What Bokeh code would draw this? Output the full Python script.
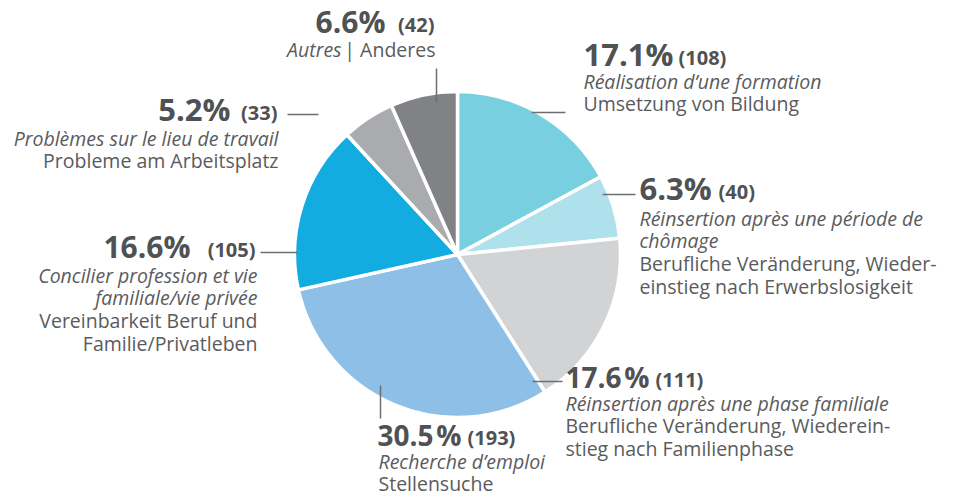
import math
from bokeh.plotting import figure
from bokeh.models import Range1d, ColumnDataSource
from bokeh.core.properties import value
from bokeh.embed import file_html
from bokeh.resources import INLINE

# ---------------- data ----------------
categories = ["Umsetzung von Bildung", "Wiedereinstieg nach Erwerbslosigkeit",
              "Wiedereinstieg nach Familienphase", "Stellensuche",
              "Vereinbarkeit Beruf und Familie", "Probleme am Arbeitsplatz", "Anderes"]
percents = [17.1, 6.3, 17.6, 30.5, 16.6, 5.2, 6.6]
counts = [108, 40, 111, 193, 105, 33, 42]
pct_space = ["", "", "\u200a", "\u200a", "", "", ""]
italic_lines = [
    ["Réalisation d’une formation"],
    ["Réinsertion après une période de", "chômage"],
    ["Réinsertion après une phase familiale"],
    ["Recherche d’emploi"],
    ["Concilier profession et vie", "familiale/vie privée"],
    ["Problèmes sur le lieu de travail"],
    ["Autres"],
]
normal_lines = [
    ["Umsetzung von Bildung"],
    ["Berufliche Veränderung, Wieder-", "einstieg nach Erwerbslosigkeit"],
    ["Berufliche Veränderung, Wiederein-", "stieg nach Familienphase"],
    ["Stellensuche"],
    ["Vereinbarkeit Beruf und", "Familie/Privatleben"],
    ["Probleme am Arbeitsplatz"],
    ["| Anderes"],
]
colors = ["#78cfe0", "#afe1ec", "#d1d3d4", "#8ebfe7", "#12ace0", "#a9abae", "#808285"]

# ---------------- layout (pixels in the 956x497 window) ----------------
W, H = 956, 497
CX, CY, R = 457, 254, 163
# label anchor: (align, pct_x, count_x, text_x, pct_baseline, first_line_baseline, pct_size)
label_layout = [
    ("left", 583, 678, 583, 65, 88, 31),
    ("left", 639, 718, 639, 199, 225, 31),
    ("left", 565, 655, 565, 387, 410, 28),
    ("left", 377, 467, 378, 445, 468, 28),
    ("right", 190, 255, 257, 257, 282, 30),
    ("right", 230, 277, 278, 120, 145, 31),
    ("right", 385, 434, 341, 32, 56, 30),
]
line_gap = 22.8
leaders = [
    (531, 112, 565, 112),
    (602, 194, 635, 194),
    (532, 381, 562, 381),
    (380, 385, 380, 418),
    (260, 252, 297, 252),
    (287, 114, 318, 114),
    (436, 68, 436, 102),
]
SHIFT = 0.38  # em correction for the glyph baseline placement


def Y(py, size=0.0):
    return H - (py - SHIFT * size)


p = figure(width=W, height=H, output_backend="svg", toolbar_location=None,
           x_range=Range1d(0, W), y_range=Range1d(0, H),
           min_border=0, outline_line_color=None)
p.axis.visible = False
p.grid.visible = False
p.background_fill_color = "white"
p.border_fill_color = "white"

# pie wedges
total = sum(counts)
starts, ends = [], []
cum = 0
for c in counts:
    starts.append(math.pi / 2 - 2 * math.pi * cum / total)
    cum += c
    ends.append(math.pi / 2 - 2 * math.pi * cum / total)
src = ColumnDataSource(dict(start=starts, end=ends, color=colors, cat=categories))
p.wedge(x=CX, y=Y(CY), radius=R, start_angle="start", end_angle="end",
        direction="clock", fill_color="color", line_color="white", line_width=3.5,
        source=src)

# leader lines
p.segment(x0=[l[0] for l in leaders], y0=[Y(l[1]) for l in leaders],
          x1=[l[2] for l in leaders], y1=[Y(l[3]) for l in leaders],
          line_color="#6d6e71", line_width=1.5)

FONT = value("Open Sans")
TXT = "#5a5b5d"
TSN = 19.5
TS = f"{TSN}px"
CSN = 20
for i in range(len(percents)):
    align, px_, cx_, tx_, pb, fb, psz = label_layout[i]
    pct_txt = f"{percents[i]}{pct_space[i]}%"
    p.text(x=[px_], y=[Y(pb, psz)], text=[pct_txt], text_font=FONT, text_font_style="bold",
           text_font_size=f"{psz}px", text_color="#505153", text_align=align,
           text_baseline="alphabetic")
    p.text(x=[cx_], y=[Y(pb, CSN)], text=[f"({counts[i]})"], text_font=FONT,
           text_font_style="bold", text_font_size=f"{CSN}px", text_color="#505153",
           text_align=align, text_baseline="alphabetic")
    if i == 6:
        p.text(x=[tx_], y=[Y(fb, TSN)], text=italic_lines[i], text_font=FONT,
               text_font_style="italic", text_font_size=TS, text_color=TXT,
               text_align="right", text_baseline="alphabetic")
        p.text(x=[cx_ + 1], y=[Y(fb, TSN)], text=normal_lines[i], text_font=FONT,
               text_font_size=TS, text_color=TXT,
               text_align="right", text_baseline="alphabetic")
        continue
    k = 0
    for line in italic_lines[i]:
        p.text(x=[tx_], y=[Y(fb + k * line_gap, TSN)], text=[line], text_font=FONT,
               text_font_style="italic", text_font_size=TS, text_color=TXT,
               text_align=align, text_baseline="alphabetic")
        k += 1
    for line in normal_lines[i]:
        p.text(x=[tx_], y=[Y(fb + k * line_gap, TSN)], text=[line], text_font=FONT,
               text_font_size=TS, text_color=TXT,
               text_align=align, text_baseline="alphabetic")
        k += 1

open("out.html", "w").write(file_html(p, INLINE))
